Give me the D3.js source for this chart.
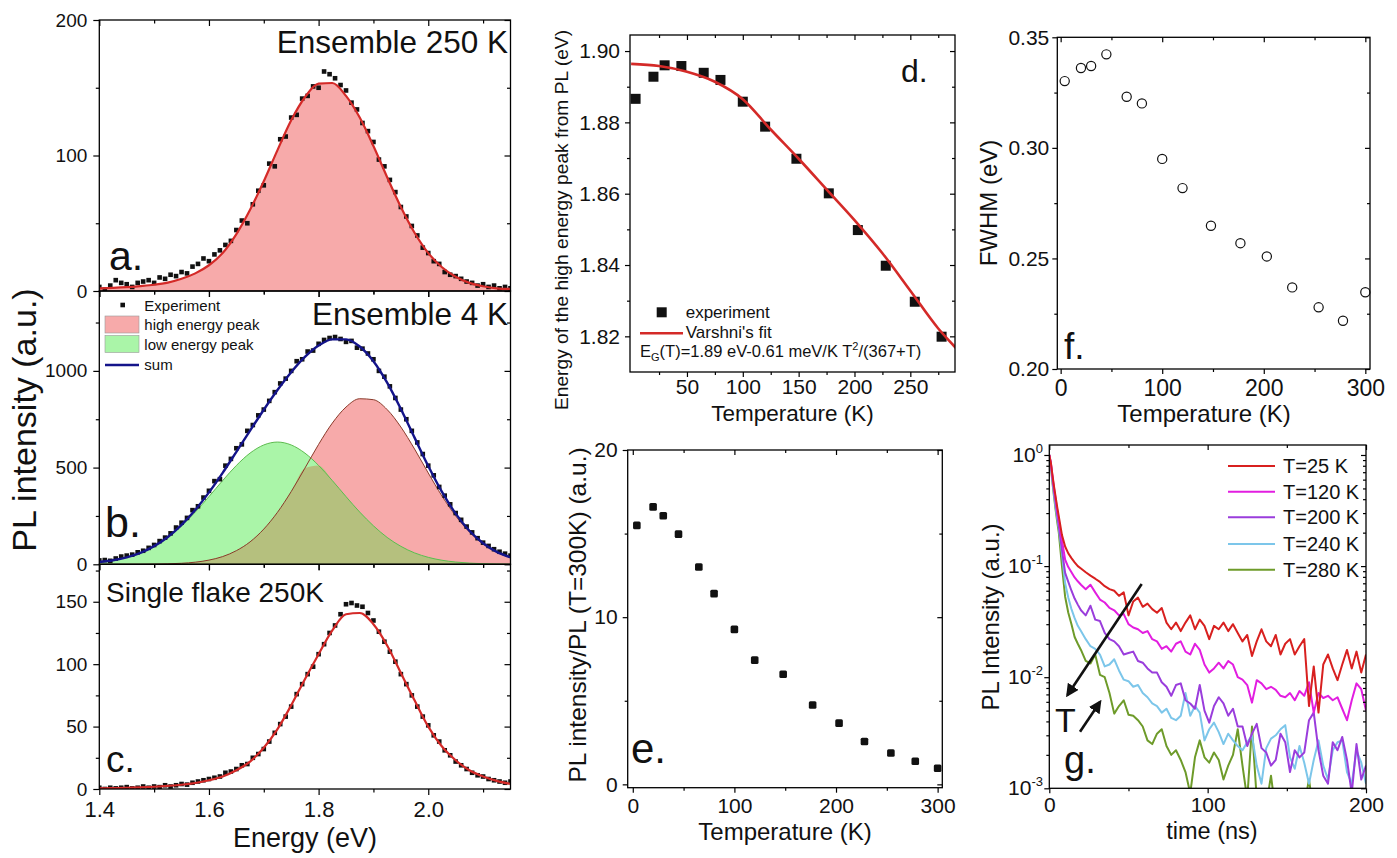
<!DOCTYPE html>
<html><head><meta charset="utf-8">
<script src="https://cdn.jsdelivr.net/npm/d3@7/dist/d3.min.js"></script>
<style>html,body{margin:0;padding:0;background:#fff;} svg{display:block;}</style>
</head><body>
<svg id="chart" width="1397" height="858"></svg>
<script>
// ================= DATA =================
// Panels a-c : PL spectra (energy in eV)
const energyFit = [1.400,1.425,1.450,1.475,1.500,1.525,1.550,1.575,1.600,1.625,1.650,1.675,1.700,1.725,1.750,1.775,1.800,1.825,1.850,1.875,1.900,1.925,1.950,1.975,2.000,2.025,2.050,2.075,2.100,2.125,2.150];
const fitA      = [2,2.3,2.8,3.6,4.6,6.2,9,13,19,28,42,60,81,104,126,143,153,153.5,144,128,107,84,62,43,28,17.5,10.5,6,3.5,2,1.5];
const fitBhigh  = [0,0.1,0.2,0.4,1,2.4,5.3,11,21.7,40,70.5,116,182,269,376,497,620,730,813,856,851,800,710,596,472,353,250,167,106,63,35.5];
const fitBlow   = [11.7,21,36,59,93,139,199,270,350,433,511,575,617,632,617,575,511,433,350,270,199,139,93,59,36,21,11.7,6.2,3.1,1.5,0.7];
const fitC      = [0.5,0.7,1,1.3,1.8,2.5,3.4,4.8,7,10,15,22,33,48,67,88,108,127,140,141,132,115,93,71,50,34,23,15,10,6.5,4];

const energyExp = [1.40,1.41,1.42,1.43,1.44,1.45,1.46,1.47,1.48,1.49,
                   1.50,1.51,1.52,1.53,1.54,1.55,1.56,1.57,1.58,1.59,
                   1.60,1.61,1.62,1.63,1.64,1.65,1.66,1.67,1.68,1.69,
                   1.70,1.71,1.72,1.73,1.74,1.75,1.76,1.77,1.78,1.79,
                   1.80,1.81,1.82,1.83,1.84,1.85,1.86,1.87,1.88,1.89,
                   1.90,1.91,1.92,1.93,1.94,1.95,1.96,1.97,1.98,1.99,
                   2.00,2.01,2.02,2.03,2.04,2.05,2.06,2.07,2.08,2.09,
                   2.10,2.11,2.12,2.13,2.14,2.15];
const expA = [3,1,4,8,6,5,3,6,7,8, 6,10,9,12,11,14,13,18,20,24, 22,27,30,34,37,45,52,50,64,74,
              78,94,92,112,114,128,130,142,144,151, 150,162,160,157,152,148,139,134,124,118,
              110,97,92,82,73,62,55,48,41,32, 28,22,20,14,12,11,9,7,6,4, 5,3,4,2,3,2];
const expB = [20,22,18,30,40,45,50,62,70,85, 100,120,138,160,190,215,240,280,300,345,
              380,430,440,510,545,600,620,690,720,770, 800,845,890,935,960,1000,1050,1060,1100,1105,
              1140,1160,1170,1175,1165,1150,1155,1120,1115,1090, 1060,1000,970,920,860,800,750,690,630,570,
              510,460,400,355,310,265,230,195,165,135, 112,95,78,65,55,45];
const expC = [1,0,1,0.5,1,1.5,0.5,1,2,1, 2,1.5,3,2,3,4,3.5,5,6,7, 8,9,10,13,14,16,19,20,25,28,
              32,38,45,52,58,66,76,84,92,98, 108,116,125,131,140,148,149,147,146,141,
              135,126,118,110,102,92,84,75,66,58, 51,43,38,31,27,22,19,16,13,11, 10,8,7,6,5,6];

// Panels d-f : temperature series
const tempsD  = [4,20,30,45,65,80,100,120,148,177,203,228,254,278];
const peakE   = [1.8866,1.8928,1.8960,1.8958,1.8939,1.8919,1.8858,1.8788,1.8698,1.8601,1.8498,1.8398,1.8297,1.8199];
const fitT    = [0,25,50,75,100,125,150,175,200,225,250,275,290,300];
const fitE    = [1.8964,1.8958,1.8942,1.8914,1.8865,1.8780,1.8698,1.8612,1.8526,1.8433,1.8328,1.8222,1.8170,1.8135];
const temps   = [4,20,30,45,65,80,100,120,148,177,203,228,254,278,300];
const plRatio = [15.49,16.6,16.07,14.97,13.0,11.41,9.27,7.43,6.59,4.75,3.66,2.56,1.88,1.38,0.96];
const fwhm    = [0.3302,0.3361,0.3370,0.3423,0.3231,0.3201,0.2950,0.2818,0.2648,0.2569,0.2509,0.2369,0.2279,0.2218,0.2347];

// Panel g : PL decays
const times = [0,1,2,3,4,5,6,8,10,12,14,16,18,20,
  23,26,29,32,35,38,41,44,47,50,53,56,59,62,65,68,71,74,77,80,83,86,89,92,95,98,
  101,104,107,110,113,116,119,122,125,128,131,134,137,140,143,146,149,152,155,158,
  161,164,167,170,173,176,179,182,185,188,191,194,197,200];
const decay25 = [1,0.85,0.66,0.52,0.42,0.34,0.28,0.19,0.15,0.13,0.118,0.108,0.10,0.095,
  .088,.082,.077,.072,.066,.062,.060,.054,.058,.036,.048,.052,.043,.046,.041,.038,.042,.031,.027,.031,
  .026,.031,.036,.027,.033,.029,.022,.029,.027,.031,.026,.030,.025,.021,.024,.0155,.021,.027,.021,.019,
  .024,.016,.020,.022,.016,.019,.022,.0055,.0125,.0048,.013,.016,.012,.0094,.013,.0176,.012,.017,.011,.016];
const decay120 = [1,0.85,0.64,0.50,0.40,0.32,0.26,0.17,0.114,0.098,0.088,0.079,0.073,0.068,
  .062,.068,.058,.050,.047,.042,.040,.036,.037,.030,.028,.027,.025,.026,.022,.021,.018,.019,.017,.020,
  .021,.017,.016,.020,.0176,.013,.011,.012,.0135,.012,.014,.013,.010,.0095,.0085,.0059,.0094,.0088,.0078,.0082,
  .0077,.0068,.0066,.0072,.0062,.0075,.0068,.0090,.0048,.0072,.0065,.0068,.0062,.0066,.0052,.0041,.0062,.0088,.0078,.0050];
const decay200 = [1,0.83,0.62,0.47,0.37,0.29,0.23,0.14,0.087,0.072,0.060,0.051,0.045,0.040,
  .036,.044,.033,.032,.025,.022,.021,.019,.016,.0165,.017,.014,.0135,.012,.011,.011,.009,.0082,.0068,.0085,
  .0088,.0062,.0058,.0052,.0085,.0050,.0039,.0055,.0066,.0058,.0045,.0052,.0036,.0036,.0024,.0031,.0038,.0023,.0021,.0016,
  .0018,.0031,.0026,.0014,.0022,.0019,.0021,.0041,.0048,.0022,.0013,.0011,.0026,.0022,.0029,.0018,.0009,.0025,.0012,.0016];
const decay240 = [1,0.80,0.58,0.44,0.34,0.27,0.22,0.13,0.070,0.052,0.041,0.034,0.029,0.026,
  .022,.019,.018,.016,.0125,.013,.0145,.0115,.0095,.0092,.0082,.0085,.0072,.0066,.0058,.0055,.0048,.0052,.0043,.0041,
  .0045,.0072,.0045,.0055,.0048,.0027,.0034,.0039,.0032,.0025,.0031,.0027,.0024,.0022,.0026,.0030,.0016,.0011,.0023,.0028,
  .0030,.0034,.0037,.0019,.0015,.0024,.0017,.0011,.0018,.0027,.0016,.0012,.0022,.0026,.0027,.0014,.0011,.0022,.0017,.0011];
const decay280 = [1,0.78,0.56,0.42,0.32,0.25,0.20,0.10,0.053,0.038,0.030,0.023,0.020,0.0176,
  .014,.0133,.016,.0105,.010,.0072,.0047,.0055,.0062,.0046,.0045,.0041,.0036,.0027,.0025,.0031,.0034,.0024,.0020,.0022,
  .0018,.0014,.0009,.0019,.0027,.0019,.0017,.0021,.0018,.0012,.0016,.0020,.0034,.0016,.0008,.0036,.0008,.0006,.0007,.0013,
  .0006,.0005,.0007,.0006,.0005,.0006,.0007,.0012,.0006,.0005,.0005,.0006,.0005,.0005,.0006,.0005,.0005,.0005,.0005,.0005];
const decaySeries = [
  {label:"T=25 K",  values:decay25,  color:"#d8201f"},
  {label:"T=120 K", values:decay120, color:"#e21ee0"},
  {label:"T=200 K", values:decay200, color:"#9a3ddc"},
  {label:"T=240 K", values:decay240, color:"#7cc6ea"},
  {label:"T=280 K", values:decay280, color:"#6e9b2a"}
];

// ================= DRAWING =================
const FONT = "'Liberation Sans', Arial, Helvetica, sans-serif";
const svg = d3.select("#chart").attr("font-family", FONT);
const defs = svg.append("defs");
let clipN = 0;
function clipFor(x, y) {
  const id = "clip" + (clipN++);
  defs.append("clipPath").attr("id", id).append("rect")
    .attr("x", x.range()[0]).attr("y", y.range()[1])
    .attr("width", x.range()[1] - x.range()[0]).attr("height", y.range()[0] - y.range()[1]);
  return `url(#${id})`;
}
function styleAxis(sel, fs) {
  sel.select(".domain").remove();
  sel.attr("font-family", FONT).attr("font-size", fs);
  sel.selectAll("line").attr("stroke", "#000").attr("stroke-width", 1.2);
  sel.selectAll("text").attr("fill", "#111");
}
const noLab = () => "";
function axes(o) {
  const x = o.x, y = o.y;
  const [x0, x1] = x.range(), [y0, y1] = y.range();
  const M = o.maj || 6, m = o.min || 3.5;
  let s;
  s = svg.append("g").attr("transform", `translate(0,${y0})`)
    .call(d3.axisBottom(x).tickValues(o.xMaj).tickSize(M).tickPadding(o.xPad ?? 8)
      .tickFormat(o.xLab === false ? noLab : (o.xFmt || (d => d))));
  styleAxis(s, o.xFs || 21);
  s = svg.append("g").attr("transform", `translate(0,${y0})`)
    .call(d3.axisBottom(x).tickValues(o.xMin).tickSize(m).tickFormat(noLab));
  styleAxis(s, 10);
  if (o.top !== false) {
    s = svg.append("g").attr("transform", `translate(0,${y1})`)
      .call(d3.axisTop(x).tickValues(o.xMaj).tickSize(-M).tickFormat(noLab));
    styleAxis(s, 10);
    s = svg.append("g").attr("transform", `translate(0,${y1})`)
      .call(d3.axisTop(x).tickValues(o.xMin).tickSize(-m).tickFormat(noLab));
    styleAxis(s, 10);
  }
  s = svg.append("g").attr("transform", `translate(${x0},0)`)
    .call(d3.axisLeft(y).tickValues(o.yMaj).tickSize(M).tickPadding(o.yPad ?? 6)
      .tickFormat(o.yLab === false ? noLab : (o.yFmt || (d => d))));
  styleAxis(s, o.yFs || 21);
  s = svg.append("g").attr("transform", `translate(${x0},0)`)
    .call(d3.axisLeft(y).tickValues(o.yMin).tickSize(m).tickFormat(noLab));
  styleAxis(s, 10);
  s = svg.append("g").attr("transform", `translate(${x1},0)`)
    .call(d3.axisRight(y).tickValues(o.yMaj).tickSize(-M).tickFormat(noLab));
  styleAxis(s, 10);
  s = svg.append("g").attr("transform", `translate(${x1},0)`)
    .call(d3.axisRight(y).tickValues(o.yMin).tickSize(-m).tickFormat(noLab));
  styleAxis(s, 10);
  svg.append("rect").attr("x", x0).attr("y", y1).attr("width", x1 - x0).attr("height", y0 - y1)
    .attr("fill", "none").attr("stroke", "#000").attr("stroke-width", 1.3);
}
function txt(str, x, y, fs, anchor, rot) {
  const t = svg.append("text").attr("font-size", fs).attr("fill", "#111")
    .attr("text-anchor", anchor || "start").text(str);
  if (rot) t.attr("transform", `translate(${x},${y}) rotate(${rot})`);
  else t.attr("x", x).attr("y", y);
  return t;
}
function squares(g, pts, x, y, size, fill) {
  g.selectAll(null).data(pts).join("rect")
    .attr("x", d => x(d[0]) - size / 2).attr("y", d => y(d[1]) - size / 2)
    .attr("width", size).attr("height", size).attr("fill", fill || "#111");
}

const PINK = "#f7aaaa", LGREEN = "#aaf5a8", OLIVE = "#b5c07e", RED = "#d42a28", NAVY = "#14148a";

// ---------- Left: panels a, b, c ----------
const xE = d3.scaleLinear().domain([1.4, 2.15]).range([99.3, 510.5]);
const yA = d3.scaleLinear().domain([0, 200]).range([291, 20]);
const yB = d3.scaleLinear().domain([0, 1413]).range([564.3, 291]);
const yC = d3.scaleLinear().domain([0, 180]).range([789, 564.3]);
const fitPts = arr => energyFit.map((e, i) => [e, arr[i]]);
const expPts = arr => energyExp.map((e, i) => [e, arr[i]]);

{
  const g = svg.append("g").attr("clip-path", clipFor(xE, yA));
  g.append("path").datum(fitPts(fitA))
    .attr("d", d3.area().x(d => xE(d[0])).y0(yA(0)).y1(d => yA(d[1])).curve(d3.curveMonotoneX))
    .attr("fill", PINK);
  squares(g, expPts(expA), xE, yA, 4.6);
  g.append("path").datum(fitPts(fitA))
    .attr("d", d3.line().x(d => xE(d[0])).y(d => yA(d[1])).curve(d3.curveMonotoneX))
    .attr("fill", "none").attr("stroke", RED).attr("stroke-width", 2.2);
}
{
  const g = svg.append("g").attr("clip-path", clipFor(xE, yB));
  const area = d3.area().x(d => xE(d[0])).y0(yB(0)).y1(d => yB(d[1])).curve(d3.curveMonotoneX);
  const line = d3.line().x(d => xE(d[0])).y(d => yB(d[1])).curve(d3.curveMonotoneX);
  const overlap = energyFit.map((e, i) => [e, Math.min(fitBhigh[i], fitBlow[i])]);
  const sum = energyFit.map((e, i) => [e, fitBhigh[i] + fitBlow[i]]);
  g.append("path").datum(fitPts(fitBhigh)).attr("d", area).attr("fill", PINK);
  g.append("path").datum(fitPts(fitBlow)).attr("d", area).attr("fill", LGREEN);
  g.append("path").datum(overlap).attr("d", area).attr("fill", OLIVE);
  g.append("path").datum(fitPts(fitBlow)).attr("d", line).attr("fill", "none").attr("stroke", "#5dbb4f").attr("stroke-width", 1);
  g.append("path").datum(fitPts(fitBhigh)).attr("d", line).attr("fill", "none").attr("stroke", "#8a3a2a").attr("stroke-width", 1);
  squares(g, expPts(expB), xE, yB, 4.6);
  g.append("path").datum(sum).attr("d", line).attr("fill", "none").attr("stroke", NAVY).attr("stroke-width", 2.4);
}
{
  const g = svg.append("g").attr("clip-path", clipFor(xE, yC));
  squares(g, expPts(expC), xE, yC, 4.6);
  g.append("path").datum(fitPts(fitC))
    .attr("d", d3.line().x(d => xE(d[0])).y(d => yC(d[1])).curve(d3.curveMonotoneX))
    .attr("fill", "none").attr("stroke", RED).attr("stroke-width", 2.2);
}
const eMaj = [1.4, 1.6, 1.8, 2.0], eMin = [1.5, 1.7, 1.9, 2.1];
axes({x: xE, y: yA, xMaj: eMaj, xMin: eMin, xLab: false, yMaj: [0, 100, 200], yMin: [50, 150], yFs: 19, yPad: 6});
axes({x: xE, y: yB, xMaj: eMaj, xMin: eMin, xLab: false, yMaj: [0, 500, 1000], yMin: [250, 750, 1250], yFs: 19, yPad: 6});
axes({x: xE, y: yC, xMaj: eMaj, xMin: eMin, xFmt: d3.format(".1f"), xFs: 22, xPad: 6,
      yMaj: [0, 50, 100, 150], yMin: [25, 75, 125, 175], yFs: 19, yPad: 6});

txt("Ensemble 250 K", 508, 52.5, 31.5, "end");
txt("Ensemble 4 K", 508, 325, 31.5, "end");
txt("Single flake 250K", 106, 601.5, 28);
txt("a.", 109, 270, 41);
txt("b.", 105, 537, 43);
txt("c.", 106, 772, 37);
txt("PL intensity (a.u.)", 36, 420, 34, "middle", -90);
txt("Energy (eV)", 305, 847, 27, "middle");
svg.append("rect").attr("x", 120.4).attr("y", 302.7).attr("width", 4.6).attr("height", 4.6).attr("fill", "#111");
txt("Experiment", 144.3, 310.5, 15);
svg.append("rect").attr("x", 105).attr("y", 316).attr("width", 34).attr("height", 17).attr("fill", PINK).attr("stroke", "#999").attr("stroke-width", 0.6);
txt("high energy peak", 144.3, 330, 15);
svg.append("rect").attr("x", 105).attr("y", 335.5).attr("width", 34).attr("height", 17).attr("fill", LGREEN).attr("stroke", "#999").attr("stroke-width", 0.6);
txt("low energy peak", 144.3, 350, 15);
svg.append("line").attr("x1", 105).attr("x2", 139).attr("y1", 365).attr("y2", 365).attr("stroke", NAVY).attr("stroke-width", 2.4);
txt("sum", 144.3, 370, 15);

// ---------- Panel d ----------
{
  const x = d3.scaleLinear().domain([-1, 290]).range([630, 955]);
  const y = d3.scaleLinear().domain([1.81, 1.9045]).range([372, 35]);
  const g = svg.append("g").attr("clip-path", clipFor(x, y));
  squares(g, tempsD.map((t, i) => [t, peakE[i]]), x, y, 10);
  g.append("path").datum(fitT.map((t, i) => [t, fitE[i]]))
    .attr("d", d3.line().x(d => x(d[0])).y(d => y(d[1])).curve(d3.curveMonotoneX))
    .attr("fill", "none").attr("stroke", RED).attr("stroke-width", 2.6);
  axes({x, y, xMaj: [50, 100, 150, 200, 250], xMin: [25, 75, 125, 175, 225, 275], xFs: 21, xPad: 2, maj: 5, min: 3,
        yMaj: [1.82, 1.84, 1.86, 1.88, 1.90], yMin: [1.83, 1.85, 1.87, 1.89], yFmt: d3.format(".2f"), yFs: 21, yPad: 5});
  txt("d.", 901, 81.5, 32);
  txt("Energy of the high energy peak from PL (eV)", 568, 220, 19.2, "middle", -90);
  txt("Temperature (K)", 792.5, 421, 22.5, "middle");
  svg.append("rect").attr("x", 656.7).attr("y", 307.3).attr("width", 10).attr("height", 10).attr("fill", "#111");
  txt("experiment", 685.7, 318, 17);
  svg.append("line").attr("x1", 640).attr("x2", 683).attr("y1", 333.3).attr("y2", 333.3).attr("stroke", RED).attr("stroke-width", 2.6);
  txt("Varshni's fit", 685.7, 337.5, 17);
  const f = svg.append("text").attr("x", 640).attr("y", 356.5).attr("font-size", 16.5).attr("fill", "#111");
  f.append("tspan").text("E");
  f.append("tspan").attr("font-size", 11).attr("dy", 4).text("G");
  f.append("tspan").attr("dy", -4).text("(T)=1.89 eV-0.61 meV/K T");
  f.append("tspan").attr("font-size", 11).attr("dy", -7).text("2");
  f.append("tspan").attr("dy", 7).text("/(367+T)");
}

// ---------- Panel e ----------
{
  const x = d3.scaleLinear().domain([-5, 304.6]).range([627.7, 942.3]);
  const y = d3.scaleLinear().domain([-0.2, 20]).range([787.7, 450]);
  const g = svg.append("g").attr("clip-path", clipFor(x, y));
  g.selectAll(null).data(temps.map((t, i) => [t, plRatio[i]])).join("rect")
    .attr("x", d => x(d[0]) - 3.8).attr("y", d => y(d[1]) - 3.8).attr("width", 7.6).attr("height", 7.6)
    .attr("rx", 1.5).attr("fill", "#111");
  axes({x, y, xMaj: [0, 100, 200, 300], xMin: [50, 150, 250], xFs: 21, xPad: 5, maj: 5, min: 3,
        yMaj: [0, 10, 20], yMin: [5, 15], yFs: 21, yPad: 5});
  txt("e.", 631, 763, 42);
  txt("PL intensity/PL (T=300K) (a.u.)", 586, 615, 24.5, "middle", -90);
  txt("Temperature (K)", 785, 840, 24, "middle");
}

// ---------- Panel f ----------
{
  const x = d3.scaleLinear().domain([-3.3, 304.6]).range([1057.3, 1370]);
  const y = d3.scaleLinear().domain([0.2, 0.35]).range([369, 37.3]);
  const g = svg.append("g");
  g.selectAll(null).data(temps.map((t, i) => [t, fwhm[i]])).join("circle")
    .attr("cx", d => x(d[0])).attr("cy", d => y(d[1])).attr("r", 4.6)
    .attr("fill", "#fff").attr("stroke", "#111").attr("stroke-width", 1.2);
  axes({x, y, xMaj: [0, 100, 200, 300], xMin: [50, 150, 250], xFs: 23, xPad: 6, maj: 5, min: 3,
        yMaj: [0.20, 0.25, 0.30, 0.35], yMin: [0.225, 0.275, 0.325], yFmt: d3.format(".2f"), yFs: 21, yPad: 3});
  txt("f.", 1064, 359, 37);
  txt("FWHM (eV)", 997, 203, 24, "middle", -90);
  txt("Temperature (K)", 1204, 422, 24, "middle");
}

// ---------- Panel g ----------
{
  const x = d3.scaleLinear().domain([0, 200]).range([1049.3, 1366]);
  const y = d3.scaleLog().domain([0.001, 1.23]).range([788.3, 445]);
  const g = svg.append("g").attr("clip-path", clipFor(x, y));
  const line = d3.line().x((d, i) => x(times[i])).y(d => y(d));
  [...decaySeries].reverse().forEach(s => {
    g.append("path").datum(s.values).attr("d", line)
      .attr("fill", "none").attr("stroke", s.color).attr("stroke-width", 2).attr("stroke-linejoin", "round");
  });
  const minors = [0.001, 0.01, 0.1].flatMap(d => [2, 3, 4, 5, 6, 7, 8, 9].map(k => k * d));
  axes({x, y, xMaj: [0, 100, 200], xMin: [50, 150], xFs: 21, xPad: 4, maj: 5, min: 3,
        yMaj: [0.001, 0.01, 0.1, 1], yMin: minors, yLab: false});
  const exps = [[1, "0"], [0.1, "-1"], [0.01, "-2"], [0.001, "-3"]];
  exps.forEach(([v, e]) => {
    const t = svg.append("text").attr("x", 1043).attr("y", y(v) + 7).attr("font-size", 21)
      .attr("text-anchor", "end").attr("fill", "#111");
    t.append("tspan").text("10");
    t.append("tspan").attr("font-size", 13).attr("dy", -9).text(e);
  });
  decaySeries.forEach((s, i) => {
    const yy = [466, 491.7, 517.3, 544, 569.7][i];
    svg.append("line").attr("x1", 1228).attr("x2", 1275).attr("y1", yy).attr("y2", yy)
      .attr("stroke", s.color).attr("stroke-width", 2);
    txt(s.label, 1283, yy + 7, 20);
  });
  defs.append("marker").attr("id", "ah").attr("viewBox", "0 0 10 10").attr("refX", 8).attr("refY", 5)
    .attr("markerWidth", 5).attr("markerHeight", 5).attr("orient", "auto")
    .append("path").attr("d", "M0,0 L10,5 L0,10 z").attr("fill", "#111");
  svg.append("line").attr("x1", 1141.7).attr("y1", 584).attr("x2", 1067.5).attr("y2", 695)
    .attr("stroke", "#111").attr("stroke-width", 2.6).attr("marker-end", "url(#ah)");
  svg.append("line").attr("x1", 1080).attr("y1", 731.7).attr("x2", 1100).attr("y2", 702)
    .attr("stroke", "#111").attr("stroke-width", 2.6).attr("marker-end", "url(#ah)");
  txt("T", 1055, 732, 34);
  txt("g.", 1064, 773, 38);
  txt("PL Intensity (a.u.)", 999, 617, 24, "middle", -90);
  txt("time (ns)", 1212, 839, 23.5, "middle");
}
</script>
</body></html>
